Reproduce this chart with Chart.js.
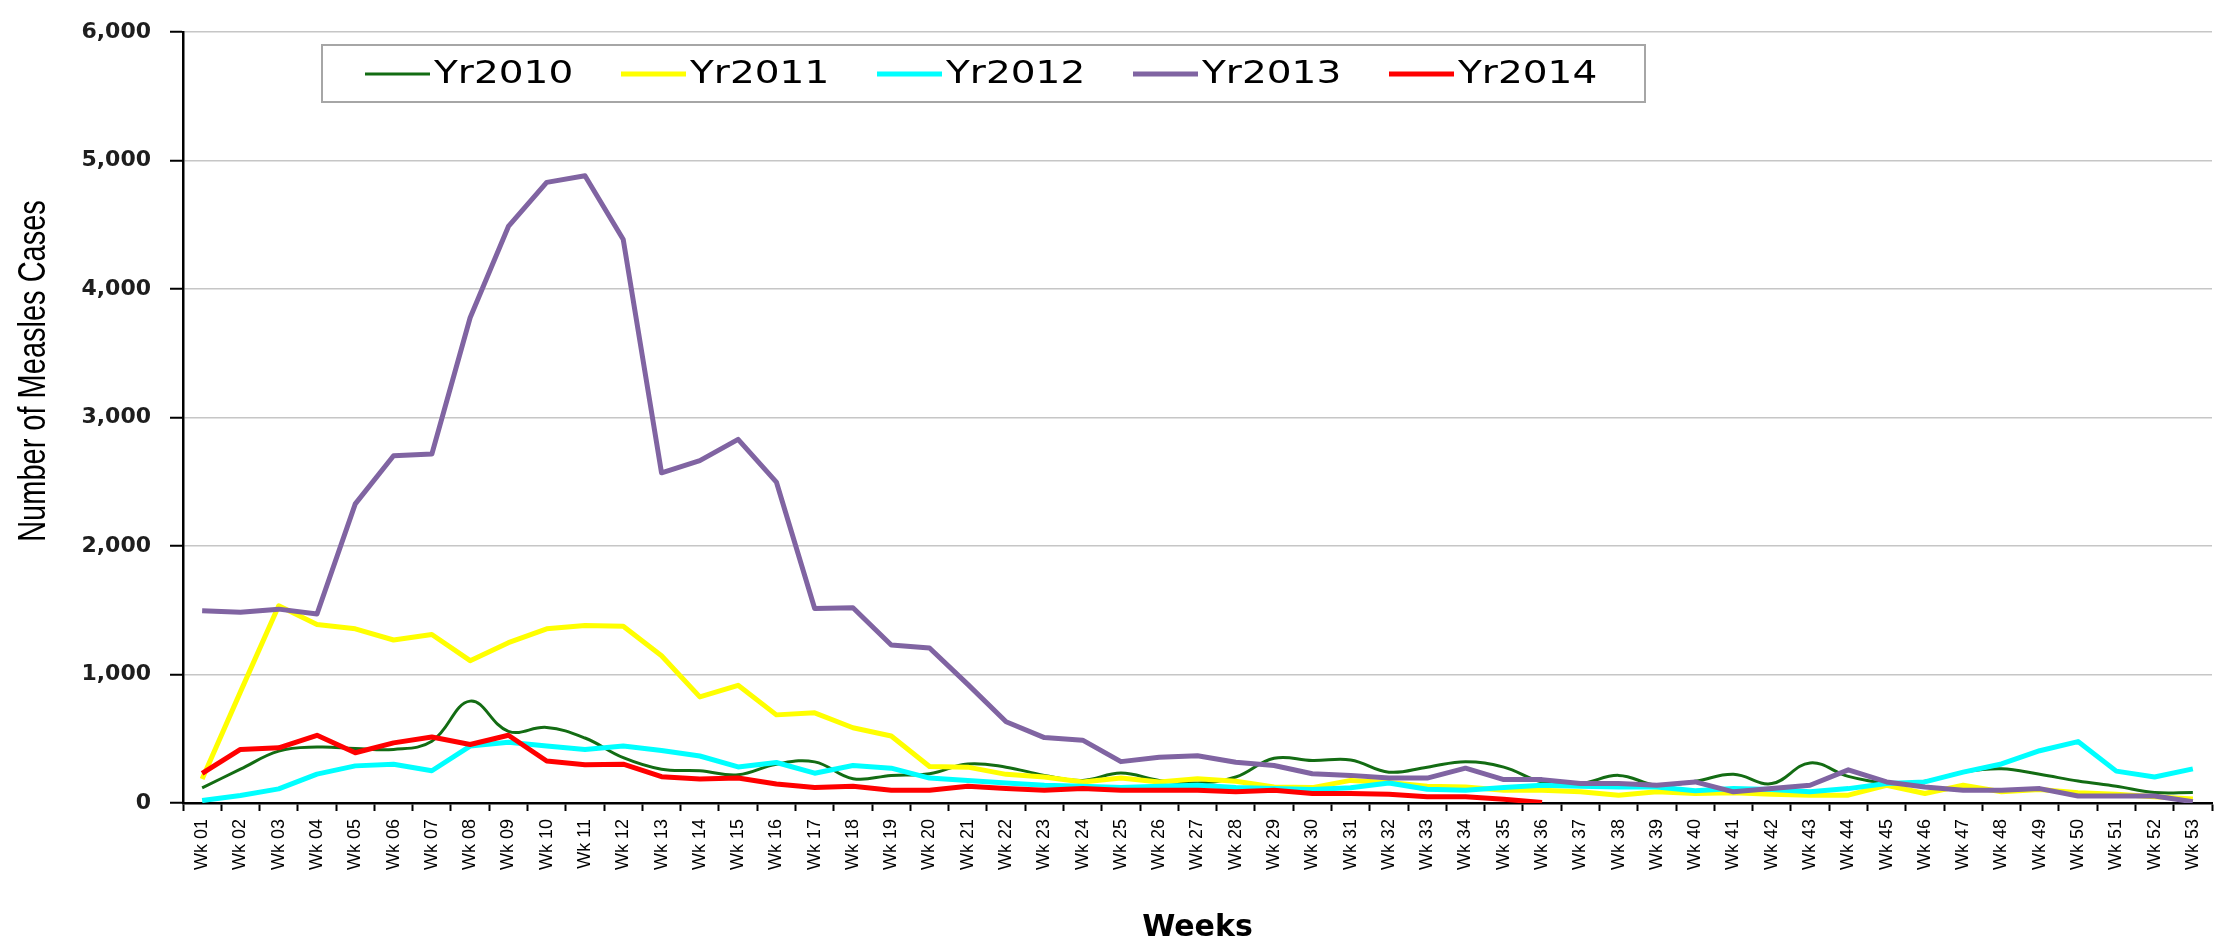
<!DOCTYPE html>
<html>
<head>
<meta charset="utf-8">
<script src="https://cdn.jsdelivr.net/npm/chart.js@4.4.1/dist/chart.umd.min.js"></script>
<style>
  html, body { margin: 0; padding: 0; background: #ffffff; }
  #wrap { width: 2229px; height: 943px; }
</style>
</head>
<body>
<div id="wrap"><canvas id="chart" width="2229" height="943"></canvas></div>
<script>
// ---- Data ----
const weeks = [
  'Wk 01','Wk 02','Wk 03','Wk 04','Wk 05','Wk 06','Wk 07','Wk 08','Wk 09','Wk 10',
  'Wk 11','Wk 12','Wk 13','Wk 14','Wk 15','Wk 16','Wk 17','Wk 18','Wk 19','Wk 20',
  'Wk 21','Wk 22','Wk 23','Wk 24','Wk 25','Wk 26','Wk 27','Wk 28','Wk 29','Wk 30',
  'Wk 31','Wk 32','Wk 33','Wk 34','Wk 35','Wk 36','Wk 37','Wk 38','Wk 39','Wk 40',
  'Wk 41','Wk 42','Wk 43','Wk 44','Wk 45','Wk 46','Wk 47','Wk 48','Wk 49','Wk 50',
  'Wk 51','Wk 52','Wk 53'
];

const yr2010 = [118, 263, 404, 435, 425, 417, 481, 793, 558, 588,
                506, 353, 263, 251, 220, 302, 320, 189, 215, 228,
                304, 279, 215, 176, 233, 176, 156, 202, 348, 330,
                335, 240, 279, 322, 279, 164, 151, 215, 138, 169,
                223, 151, 312, 207, 156, 170, 240, 266, 223, 171,
                130, 82, 82];

const yr2011 = [187, 865, 1535, 1389, 1356, 1269, 1312, 1108, 1248, 1356,
                1381, 1376, 1146, 826, 916, 686, 702, 586, 522, 284,
                279, 223, 202, 164, 194, 164, 189, 169, 125, 120,
                176, 159, 130, 125, 100, 100, 87, 61, 87, 74,
                79, 69, 61, 61, 138, 74, 138, 87, 105, 79,
                69, 49, 31];

const yr2012 = [20, 59, 110, 225, 289, 302, 251, 443, 473, 443,
                417, 443, 409, 366, 281, 315, 232, 292, 271, 194,
                176, 156, 138, 130, 120, 130, 138, 120, 112, 105,
                118, 156, 107, 100, 120, 138, 130, 125, 125, 95,
                112, 105, 87, 112, 151, 164, 240, 304, 407, 478,
                248, 202, 266];

const yr2013 = [1496, 1484, 1509, 1471, 2328, 2703, 2716, 3777, 4488, 4831,
                4882, 4386, 2570, 2665, 2831, 2498, 1514, 1520, 1230, 1207,
                923, 632, 509, 489, 322, 356, 368, 317, 292, 228,
                215, 194, 194, 271, 182, 182, 151, 151, 138, 164,
                87, 112, 138, 258, 164, 125, 100, 100, 112, 54,
                54, 54, 10];

const yr2014 = [230, 417, 430, 527, 391, 468, 514, 455, 527, 327,
                297, 302, 205, 187, 194, 148, 120, 130, 100, 100,
                130, 112, 100, 112, 100, 100, 100, 87, 100, 74,
                74, 69, 49, 48, 30, 3];

const seriesNames = ['Yr2010', 'Yr2011', 'Yr2012', 'Yr2013', 'Yr2014'];
const yTickMax = 6000;
const yTickStep = 1000;

// ---- Styles ----
const colors = ['#136c13', '#ffff00', '#00ffff', '#8064a2', '#ff0000'];
const widths = [3, 5, 5, 5, 5];
const tensions = [0.4, 0, 0, 0, 0];
const values = [yr2010, yr2011, yr2012, yr2013, yr2014];

const datasets = seriesNames.map((name, i) => ({
  label: name,
  data: values[i],
  borderColor: colors[i],
  backgroundColor: colors[i],
  borderWidth: widths[i],
  tension: tensions[i],
  pointRadius: 0,
  fill: false,
  order: seriesNames.length - i
}));

// Boxed legend drawn inside the plot, like the original
const boxLegend = {
  id: 'boxLegend',
  afterDraw(chart) {
    const c = chart.ctx;
    const bx = 322, by = 45, bw = 1323, bh = 57;
    c.save();
    c.fillStyle = '#ffffff';
    c.fillRect(bx, by, bw, bh);
    c.strokeStyle = '#a6a6a6';
    c.lineWidth = 2;
    c.strokeRect(bx, by, bw, bh);
    chart.data.datasets.forEach((ds, i) => {
      const x0 = 365 + i * 256;
      const cy = 74;
      c.strokeStyle = ds.borderColor;
      c.lineWidth = ds.borderWidth;
      c.beginPath();
      c.moveTo(x0, cy);
      c.lineTo(x0 + 65, cy);
      c.stroke();
      // label text, widened like the original's stretched lettering
      c.save();
      c.translate(x0 + 69, cy + 1);
      c.scale(1.22, 1);
      c.font = '32px "DejaVu Sans", sans-serif';
      c.textBaseline = 'middle';
      c.textAlign = 'left';
      c.fillStyle = '#000000';
      c.fillText(ds.label, 0, 0);
      c.restore();
    });
    c.restore();
  }
};

// Y axis title (placed like the original, a little above centre)
const yTitle = {
  id: 'yTitle',
  afterDraw(chart) {
    const c = chart.ctx;
    c.save();
    c.translate(34, 371);
    c.rotate(-Math.PI / 2);
    c.scale(1, 1.35);
    c.font = '29px "Liberation Sans", sans-serif';
    c.fillStyle = '#000000';
    c.textAlign = 'center';
    c.textBaseline = 'middle';
    c.fillText('Number of Measles Cases', 0, 0);
    c.restore();
  }
};

new Chart(document.getElementById('chart'), {
  type: 'line',
  data: { labels: weeks, datasets: datasets },
  options: {
    responsive: false,
    animation: false,
    layout: { padding: { top: 20, right: 17, left: 0, bottom: 0 } },
    plugins: {
      legend: { display: false },
      tooltip: { enabled: false },
      title: { display: false }
    },
    elements: {
      point: { radius: 0 },
      line: { borderJoinStyle: 'round', borderCapStyle: 'butt' }
    },
    scales: {
      x: {
        type: 'category',
        offset: true,
        grid: {
          offset: true,
          drawOnChartArea: false,
          drawTicks: true,
          tickLength: 8,
          tickWidth: 2,
          tickColor: '#000000'
        },
        border: { color: '#000000', width: 2.5 },
        ticks: {
          autoSkip: false,
          minRotation: 90,
          maxRotation: 90,
          padding: 8,
          color: '#000000',
          font: { family: '"Liberation Sans", sans-serif', size: 18 }
        },
        title: {
          display: true,
          text: 'Weeks',
          color: '#000000',
          font: { family: '"DejaVu Sans", sans-serif', size: 30, weight: 'bold', lineHeight: 1 },
          padding: { top: 0, bottom: 0 }
        },
        afterFit(scale) { scale.height = 140; }
      },
      y: {
        min: 0,
        max: yTickMax,
        ticks: {
          stepSize: yTickStep,
          padding: 19,
          color: '#1e1e1e',
          font: { family: '"DejaVu Sans", sans-serif', size: 22, weight: 'bold' }
        },
        grid: {
          color: (ctx) => (ctx.tick && ctx.tick.value === 0) ? 'rgba(0,0,0,0)' : '#c6c6c6',
          lineWidth: 1.5,
          tickColor: '#000000',
          tickWidth: 2,
          tickLength: 13
        },
        border: { color: '#000000', width: 2.5 },
        afterFit(scale) { scale.width = 183; }
      }
    }
  },
  plugins: [boxLegend, yTitle]
});
</script>
</body>
</html>
